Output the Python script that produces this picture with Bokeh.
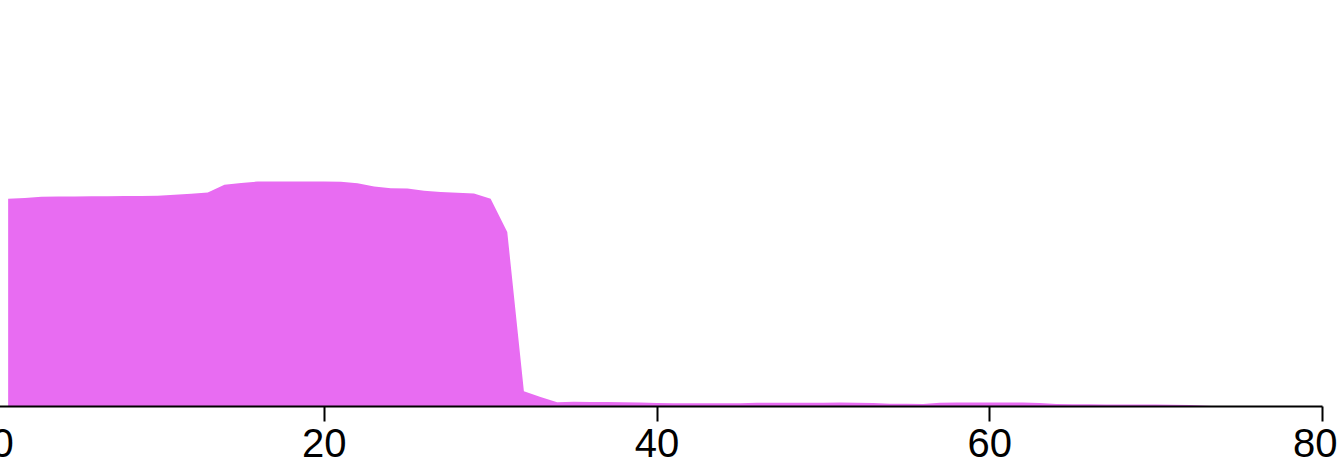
from bokeh.plotting import figure
from bokeh.models import LinearAxis, FixedTicker, Range1d, ColumnDataSource
from bokeh.embed import file_html
from bokeh.resources import INLINE

# Data (x position, area height above baseline)
x_vals = list(range(1, 75))
heights = [
    207.7, 208.5, 209.8, 210.0, 210.1, 210.2, 210.3, 210.4, 210.5, 210.8,  # 1-10
    211.8, 212.8, 214.0, 221.7, 223.5, 225.0, 225.0, 225.0, 225.0, 225.0,  # 11-20
    224.8, 223.3, 220.0, 218.3, 218.1, 215.7, 214.5, 213.7, 213.0, 207.8,  # 21-30
    174.5, 15.3, 9.5, 4.2, 4.7, 4.6, 4.5, 4.3, 4.0, 3.5,                   # 31-40
    3.3, 3.3, 3.3, 3.3, 3.3, 3.7, 3.8, 3.8, 3.8, 3.8,                      # 41-50
    4.0, 3.8, 3.4, 2.8, 2.8, 2.6, 3.8, 3.9, 3.9, 3.9,                      # 51-60
    3.9, 3.9, 3.5, 2.6, 2.3, 2.2, 2.1, 2.0, 2.0, 2.0,                      # 61-70
    1.8, 1.4, 0.8, 0.0,                                                    # 71-74
]
tick_values = [0, 20, 40, 60, 80]
x_domain = [0, 80]
y_domain = [0, 406]

src = ColumnDataSource(dict(x=x_vals, h=heights))

p = figure(
    width=1346, height=462,
    output_backend="svg", toolbar_location=None,
    x_range=Range1d(*x_domain), y_range=Range1d(*y_domain),
    x_axis_location=None, y_axis_location=None,
    min_border_left=0, min_border_right=15, min_border_top=0, min_border_bottom=56,
    styles={"margin-left": "-9px"},
)
p.outline_line_color = None
p.grid.visible = False
p.background_fill_color = "white"
p.border_fill_color = "white"

p.varea(x="x", y1=0, y2="h", source=src, fill_color="#e86cf2", fill_alpha=1.0)

ax = LinearAxis(ticker=FixedTicker(ticks=tick_values))
ax.axis_line_width = 2
ax.axis_line_color = "black"
ax.major_tick_line_width = 2
ax.major_tick_line_color = "black"
ax.major_tick_out = 15
ax.major_tick_in = 0
ax.minor_tick_out = 0
ax.minor_tick_in = 0
ax.major_label_standoff = 7
ax.major_label_text_font = "Liberation Sans"
ax.major_label_text_font_size = "40px"
ax.major_label_text_color = "black"
p.add_layout(ax, "below")

open("out.html", "w").write(file_html(p, INLINE))
